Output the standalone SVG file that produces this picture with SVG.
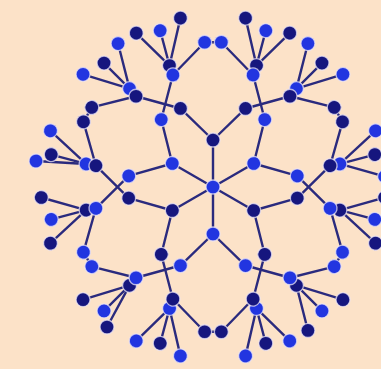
<svg xmlns="http://www.w3.org/2000/svg" width="381" height="369" viewBox="0 0 381 369">
<style>
.e{stroke:#2c2c7e;stroke-width:2.4;fill:none;stroke-linecap:round}
circle{stroke:#ebe4f6;stroke-width:1.3;stroke-opacity:.75}
.d{fill:#17177e}
.b{fill:#2236e0}
</style>
<defs>
<filter id="soft" x="-5%" y="-5%" width="110%" height="110%"><feGaussianBlur stdDeviation="0.6"/></filter>
<path id="sec" d="M213 187L213 140M213 140L180.47 108.47M213 140L245.53 108.47M180.47 108.47L136.03 96.24M245.53 108.47L289.97 96.24M136.03 96.24L129.56 88.62M289.97 96.24L296.44 88.62M296.44 88.62L342.97 74.34M296.44 88.62L321.97 63.1M129.56 88.62L83.03 74.34M129.56 88.62L104.03 63.1M129.56 88.62L118.07 43.57M289.97 96.24L334.19 107.39M136.03 96.24L91.81 107.39M204.65 42.24L221.35 42.24"/>
</defs>
<rect width="381" height="369" fill="#fce2c8"/>
<g id="connectors" filter="url(#soft)">
<g><use href="#sec" class="e"/><path class="e" d="M296.44 88.62L307.93 43.57"/></g>
<g transform="rotate(60 213 187)"><use href="#sec" class="e"/><path class="e" d="M296.44 88.62L307.93 43.57"/></g>
<g transform="rotate(120 213 187)"><use href="#sec" class="e"/><path class="e" d="M296.44 88.62L307.93 43.57"/></g>
<g transform="rotate(180 213 187)"><use href="#sec" class="e"/><path class="e" d="M296.44 88.62L319 47"/></g>
<g transform="rotate(240 213 187)"><use href="#sec" class="e"/><path class="e" d="M296.44 88.62L324.02 46.71"/></g>
<g transform="rotate(300 213 187)"><use href="#sec" class="e"/><path class="e" d="M296.44 88.62L307.93 43.57"/></g>
</g>
<g id="nodes" filter="url(#soft)">
<g id="center"><circle cx="213" cy="187" r="7" class="b"/></g>
<g id="sector0">
<g id="n0-r1"><circle cx="213" cy="140" r="7" class="d"/></g>
<g id="n0-bp"><circle cx="180.47" cy="108.47" r="7" class="d"/></g>
<g id="n0-bm"><circle cx="245.53" cy="108.47" r="7" class="d"/></g>
<g id="n0-hop"><circle cx="129.56" cy="88.62" r="7" class="b"/></g>
<g id="n0-hom"><circle cx="296.44" cy="88.62" r="7" class="b"/></g>
<g id="n0-hip"><circle cx="136.03" cy="96.24" r="7" class="d"/></g>
<g id="n0-him"><circle cx="289.97" cy="96.24" r="7" class="d"/></g>
<g id="n0-lp1"><circle cx="83.03" cy="74.34" r="7" class="b"/></g>
<g id="n0-lp2"><circle cx="104.03" cy="63.1" r="7" class="d"/></g>
<g id="n0-lp3"><circle cx="118.07" cy="43.57" r="7" class="b"/></g>
<g id="n0-lm1"><circle cx="342.97" cy="74.34" r="7" class="b"/></g>
<g id="n0-lm2"><circle cx="321.97" cy="63.1" r="7" class="d"/></g>
<g id="n0-lm3"><circle cx="307.93" cy="43.57" r="7" class="b"/></g>
<g id="n0-pa"><circle cx="204.65" cy="42.24" r="7" class="b"/></g>
<g id="n0-pb"><circle cx="221.35" cy="42.24" r="7" class="b"/></g>
</g>
<g id="sector1" transform="rotate(60 213 187)">
<g id="n1-r1"><circle cx="213" cy="140" r="7" class="b"/></g>
<g id="n1-bp"><circle cx="180.47" cy="108.47" r="7" class="b"/></g>
<g id="n1-bm"><circle cx="245.53" cy="108.47" r="7" class="b"/></g>
<g id="n1-hop"><circle cx="129.56" cy="88.62" r="7" class="d"/></g>
<g id="n1-hom"><circle cx="296.44" cy="88.62" r="7" class="d"/></g>
<g id="n1-hip"><circle cx="136.03" cy="96.24" r="7" class="b"/></g>
<g id="n1-him"><circle cx="289.97" cy="96.24" r="7" class="b"/></g>
<g id="n1-lp1"><circle cx="83.03" cy="74.34" r="7" class="d"/></g>
<g id="n1-lp2"><circle cx="104.03" cy="63.1" r="7" class="b"/></g>
<g id="n1-lp3"><circle cx="118.07" cy="43.57" r="7" class="d"/></g>
<g id="n1-lm1"><circle cx="342.97" cy="74.34" r="7" class="d"/></g>
<g id="n1-lm2"><circle cx="321.97" cy="63.1" r="7" class="b"/></g>
<g id="n1-lm3"><circle cx="307.93" cy="43.57" r="7" class="d"/></g>
<g id="n1-pa"><circle cx="204.65" cy="42.24" r="7" class="d"/></g>
<g id="n1-pb"><circle cx="221.35" cy="42.24" r="7" class="d"/></g>
</g>
<g id="sector2" transform="rotate(120 213 187)">
<g id="n2-r1"><circle cx="213" cy="140" r="7" class="d"/></g>
<g id="n2-bp"><circle cx="180.47" cy="108.47" r="7" class="d"/></g>
<g id="n2-bm"><circle cx="245.53" cy="108.47" r="7" class="d"/></g>
<g id="n2-hop"><circle cx="129.56" cy="88.62" r="7" class="b"/></g>
<g id="n2-hom"><circle cx="296.44" cy="88.62" r="7" class="b"/></g>
<g id="n2-hip"><circle cx="136.03" cy="96.24" r="7" class="d"/></g>
<g id="n2-him"><circle cx="289.97" cy="96.24" r="7" class="d"/></g>
<g id="n2-lp1"><circle cx="83.03" cy="74.34" r="7" class="b"/></g>
<g id="n2-lp2"><circle cx="104.03" cy="63.1" r="7" class="d"/></g>
<g id="n2-lp3"><circle cx="118.07" cy="43.57" r="7" class="b"/></g>
<g id="n2-lm1"><circle cx="342.97" cy="74.34" r="7" class="b"/></g>
<g id="n2-lm2"><circle cx="321.97" cy="63.1" r="7" class="d"/></g>
<g id="n2-lm3"><circle cx="307.93" cy="43.57" r="7" class="b"/></g>
<g id="n2-pa"><circle cx="204.65" cy="42.24" r="7" class="b"/></g>
<g id="n2-pb"><circle cx="221.35" cy="42.24" r="7" class="b"/></g>
</g>
<g id="sector3" transform="rotate(180 213 187)">
<g id="n3-r1"><circle cx="213" cy="140" r="7" class="b"/></g>
<g id="n3-bp"><circle cx="180.47" cy="108.47" r="7" class="b"/></g>
<g id="n3-bm"><circle cx="245.53" cy="108.47" r="7" class="b"/></g>
<g id="n3-hop"><circle cx="129.56" cy="88.62" r="7" class="d"/></g>
<g id="n3-hom"><circle cx="296.44" cy="88.62" r="7" class="d"/></g>
<g id="n3-hip"><circle cx="136.03" cy="96.24" r="7" class="b"/></g>
<g id="n3-him"><circle cx="289.97" cy="96.24" r="7" class="b"/></g>
<g id="n3-lp1"><circle cx="83.03" cy="74.34" r="7" class="d"/></g>
<g id="n3-lp2"><circle cx="104.03" cy="63.1" r="7" class="b"/></g>
<g id="n3-lp3"><circle cx="118.07" cy="43.57" r="7" class="d"/></g>
<g id="n3-lm1"><circle cx="342.97" cy="74.34" r="7" class="d"/></g>
<g id="n3-lm2"><circle cx="321.97" cy="63.1" r="7" class="b"/></g>
<g id="n3-lm3"><circle cx="319" cy="47" r="7" class="d"/></g>
<g id="n3-pa"><circle cx="204.65" cy="42.24" r="7" class="d"/></g>
<g id="n3-pb"><circle cx="221.35" cy="42.24" r="7" class="d"/></g>
</g>
<g id="sector4" transform="rotate(240 213 187)">
<g id="n4-r1"><circle cx="213" cy="140" r="7" class="d"/></g>
<g id="n4-bp"><circle cx="180.47" cy="108.47" r="7" class="d"/></g>
<g id="n4-bm"><circle cx="245.53" cy="108.47" r="7" class="d"/></g>
<g id="n4-hop"><circle cx="129.56" cy="88.62" r="7" class="b"/></g>
<g id="n4-hom"><circle cx="296.44" cy="88.62" r="7" class="b"/></g>
<g id="n4-hip"><circle cx="136.03" cy="96.24" r="7" class="d"/></g>
<g id="n4-him"><circle cx="289.97" cy="96.24" r="7" class="d"/></g>
<g id="n4-lp1"><circle cx="83.03" cy="74.34" r="7" class="b"/></g>
<g id="n4-lp2"><circle cx="104.03" cy="63.1" r="7" class="d"/></g>
<g id="n4-lp3"><circle cx="118.07" cy="43.57" r="7" class="b"/></g>
<g id="n4-lm1"><circle cx="342.97" cy="74.34" r="7" class="b"/></g>
<g id="n4-lm2"><circle cx="321.97" cy="63.1" r="7" class="d"/></g>
<g id="n4-lm3"><circle cx="324.02" cy="46.71" r="7" class="b"/></g>
<g id="n4-pa"><circle cx="204.65" cy="42.24" r="7" class="b"/></g>
<g id="n4-pb"><circle cx="221.35" cy="42.24" r="7" class="b"/></g>
</g>
<g id="sector5" transform="rotate(300 213 187)">
<g id="n5-r1"><circle cx="213" cy="140" r="7" class="b"/></g>
<g id="n5-bp"><circle cx="180.47" cy="108.47" r="7" class="b"/></g>
<g id="n5-bm"><circle cx="245.53" cy="108.47" r="7" class="b"/></g>
<g id="n5-hop"><circle cx="129.56" cy="88.62" r="7" class="d"/></g>
<g id="n5-hom"><circle cx="296.44" cy="88.62" r="7" class="d"/></g>
<g id="n5-hip"><circle cx="136.03" cy="96.24" r="7" class="b"/></g>
<g id="n5-him"><circle cx="289.97" cy="96.24" r="7" class="b"/></g>
<g id="n5-lp1"><circle cx="83.03" cy="74.34" r="7" class="d"/></g>
<g id="n5-lp2"><circle cx="104.03" cy="63.1" r="7" class="b"/></g>
<g id="n5-lp3"><circle cx="118.07" cy="43.57" r="7" class="d"/></g>
<g id="n5-lm1"><circle cx="342.97" cy="74.34" r="7" class="d"/></g>
<g id="n5-lm2"><circle cx="321.97" cy="63.1" r="7" class="b"/></g>
<g id="n5-lm3"><circle cx="307.93" cy="43.57" r="7" class="d"/></g>
<g id="n5-pa"><circle cx="204.65" cy="42.24" r="7" class="d"/></g>
<g id="n5-pb"><circle cx="221.35" cy="42.24" r="7" class="d"/></g>
</g>
</g>
</svg>
